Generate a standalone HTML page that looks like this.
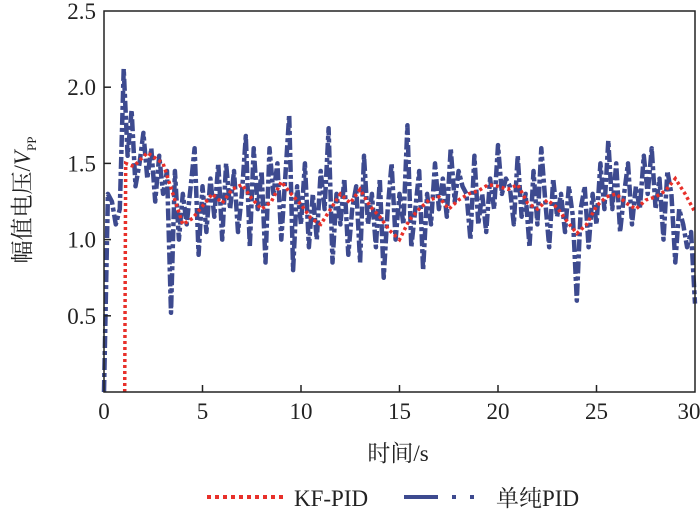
<!DOCTYPE html>
<html><head><meta charset="utf-8"><style>
html,body{margin:0;padding:0;background:#fff;}
svg{display:block;}
text{font-family:"Liberation Serif","Noto Serif CJK SC",serif;fill:#222;}
</style></head><body>
<svg id="chart" width="700" height="513" viewBox="0 0 700 513" xmlns="http://www.w3.org/2000/svg">
<g id="marks"></g>
<rect x="104" y="11" width="591" height="381" fill="none" stroke="#222" stroke-width="1.5"/>
<g id="axes"></g>
<text x="398" y="461" font-size="23" text-anchor="middle">时间/s</text>
<text transform="translate(30,200) rotate(-90)" font-size="23" text-anchor="middle">幅值电压/<tspan font-style="italic">V</tspan><tspan font-size="13" dy="6">PP</tspan></text>
<g>
<line x1="207" y1="497" x2="283" y2="497" stroke="#e8302a" stroke-width="4" stroke-dasharray="4,4"/>
<text x="294" y="506" font-size="23">KF-PID</text>
<line x1="404" y1="497" x2="487" y2="497" stroke="#3d4a8f" stroke-width="4" stroke-dasharray="34,14,4,14,4,14"/>
<text x="496" y="506" font-size="23">单纯PID</text>
</g>
</svg>
<script>
const xTicks=[0,5,10,15,20,25,30];
const yTicks=[0.5,1.0,1.5,2.0,2.5];
const yTickLabels=["0.5","1.0","1.5","2.0","2.5"];
const pidTimeStep=0.2;
const pidValues=[0,1.3,1.25,1.1,1.2,2.12,1.55,1.85,1.35,1.5,1.7,1.4,1.6,1.25,1.55,1.3,1.45,0.52,1.45,1.0,1.3,1.1,1.35,1.6,0.9,1.35,1.05,1.4,1.15,1.5,1.0,1.5,1.2,1.45,1.05,1.3,1.68,0.95,1.6,1.2,1.45,0.85,1.6,1.3,1.5,1.0,1.4,1.82,0.8,1.35,1.1,1.5,0.95,1.3,1.0,1.45,1.2,1.73,0.85,1.3,1.1,1.4,0.9,1.2,1.35,0.85,1.55,1.1,1.3,0.95,1.4,0.75,1.2,1.5,1.0,1.3,1.1,1.75,0.95,1.2,1.45,0.8,1.3,1.1,1.5,1.2,1.4,1.15,1.6,1.25,1.45,1.35,1.3,1.0,1.55,1.1,1.3,1.05,1.4,1.2,1.62,1.3,1.4,1.35,1.1,1.55,1.15,1.3,0.95,1.45,1.1,1.6,1.25,0.95,1.4,1.15,1.3,1.05,1.35,1.15,0.6,1.2,1.35,0.95,1.3,1.1,1.5,1.2,1.65,1.2,1.5,1.05,1.3,1.5,1.1,1.35,1.2,1.55,1.3,1.6,1.2,1.4,1.0,1.45,1.3,0.85,1.2,1.1,0.95,1.05,0.58];
const kfTimes=[1.05,1.1,1.5,2.2,3.0,3.5,4.0,4.5,5.0,5.5,6.0,6.5,7.0,7.5,8.0,8.5,9.0,9.5,10.0,10.5,11.0,11.5,12.0,12.5,13.0,13.5,14.0,14.5,15.0,15.5,16.0,16.5,17.0,17.5,18.0,18.5,19.0,19.5,20.0,20.5,21.0,21.5,22.0,22.5,23.0,23.5,24.0,24.5,25.0,25.5,26.0,26.5,27.0,27.5,28.0,28.5,29.0,29.5,30.0];
const kfValues=[0,1.5,1.48,1.57,1.5,1.3,1.1,1.14,1.22,1.3,1.24,1.33,1.36,1.27,1.2,1.25,1.38,1.3,1.23,1.14,1.1,1.2,1.3,1.24,1.33,1.22,1.15,1.06,1.0,1.13,1.2,1.26,1.28,1.2,1.26,1.3,1.32,1.36,1.35,1.33,1.36,1.24,1.2,1.26,1.21,1.12,1.04,1.1,1.22,1.28,1.3,1.24,1.2,1.26,1.28,1.32,1.4,1.3,1.18];
const X0=104,X1=695,Y0=392,Y1=11;
function xs(v){return X0+(v/30)*(X1-X0);}
function ys(v){return Y0-(v/2.5)*(Y0-Y1);}
const NS="http://www.w3.org/2000/svg";
const marks=document.getElementById('marks');
const axes=document.getElementById('axes');
let d="";
pidValues.forEach((v,i)=>{d+=(i?"L":"M")+xs(i*pidTimeStep).toFixed(1)+","+ys(v).toFixed(1);});
const pid=document.createElementNS(NS,'path');
pid.setAttribute('d',d);pid.setAttribute('fill','none');pid.setAttribute('stroke','#3d4a8f');
pid.setAttribute('stroke-width','4.5');pid.setAttribute('stroke-dasharray','12,3,4,3');pid.setAttribute('stroke-linejoin','round');


marks.appendChild(pid);
let d2="M"+xs(kfTimes[0]).toFixed(1)+","+ys(0).toFixed(1);
kfTimes.forEach((t,i)=>{d2+="L"+xs(t).toFixed(1)+","+ys(kfValues[i]).toFixed(1);});
const kf=document.createElementNS(NS,'path');
kf.setAttribute('d',d2);kf.setAttribute('fill','none');kf.setAttribute('stroke','#e8302a');
kf.setAttribute('stroke-width','3.5');kf.setAttribute('stroke-dasharray','3,3');


marks.appendChild(kf);
xTicks.forEach(v=>{
 const x=xs(v);
 if(v>0&&v<30){const l=document.createElementNS(NS,'line');
 l.setAttribute('x1',x);l.setAttribute('x2',x);l.setAttribute('y1',Y0);l.setAttribute('y2',Y0-7);l.setAttribute('stroke','#222');l.setAttribute('stroke-width','1.5');
 
 
 axes.appendChild(l);}
 const t=document.createElementNS(NS,'text');
 t.setAttribute('x',v===30?x-6:x);t.setAttribute('y',419);t.setAttribute('font-size','23');t.setAttribute('text-anchor','middle');
 t.textContent=String(v);
 
 
 axes.appendChild(t);
});
yTicks.forEach((v,i)=>{
 const y=ys(v);
 if(v<2.5){const l=document.createElementNS(NS,'line');
 l.setAttribute('x1',X0);l.setAttribute('x2',X0+7);l.setAttribute('y1',y);l.setAttribute('y2',y);l.setAttribute('stroke','#222');l.setAttribute('stroke-width','1.5');
 
 
 axes.appendChild(l);}
 const t=document.createElementNS(NS,'text');
 t.setAttribute('x',96);t.setAttribute('y',y+8);t.setAttribute('font-size','23');t.setAttribute('text-anchor','end');
 t.textContent=yTickLabels[i];
 
 
 axes.appendChild(t);
});
</script>
</body></html>
